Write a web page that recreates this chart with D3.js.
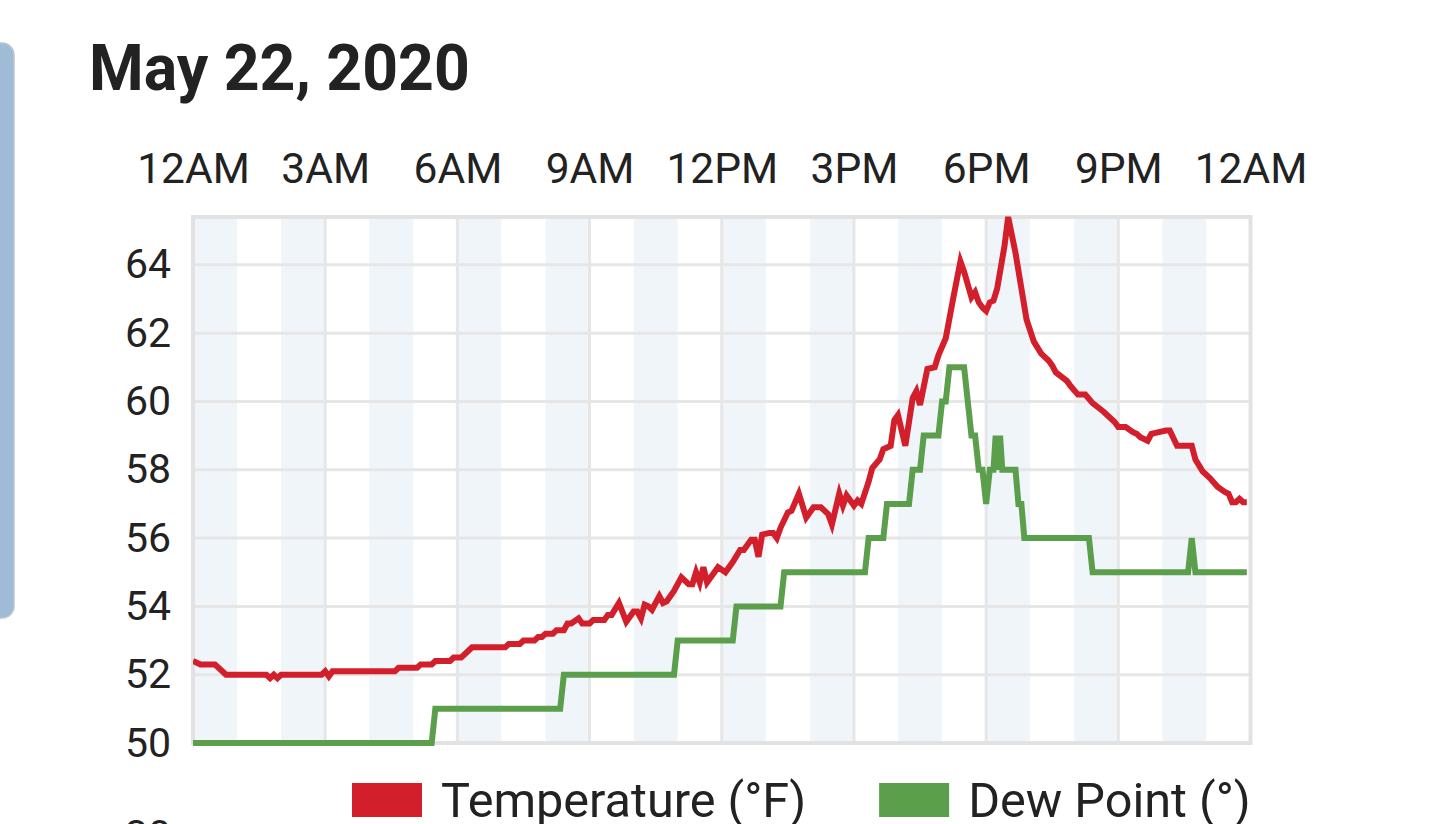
<!DOCTYPE html>
<html>
<head>
<meta charset="utf-8">
<script src="https://cdn.jsdelivr.net/npm/d3@7"></script>
<style>
  body { margin: 0; background: #fff; }
  svg { display: block; font-family: Roboto, "Noto Sans", sans-serif; }
</style>
</head>
<body>
<svg id="chart" width="1437" height="824"></svg>
<script>
// ---- //
// Data //
// ---- //

const chartTitle = "May 22, 2020";
const seriesNames = ["Temperature (°F)", "Dew Point (°)"];
const seriesColors = ["#d31f2b", "#5b9e4b"];
const yTicks = [50, 52, 54, 56, 58, 60, 62, 64];

// [time of day, °F]
const temperature = [
  ["0:00", 52.4], ["0:10", 52.3], ["0:30", 52.3], ["0:45", 52.0], ["1:40", 52.0],
  ["1:45", 51.9], ["1:50", 52.0], ["1:55", 51.9], ["2:00", 52.0], ["2:55", 52.0],
  ["3:00", 52.1], ["3:05", 51.95], ["3:10", 52.1], ["4:35", 52.1], ["4:40", 52.2],
  ["5:05", 52.2], ["5:10", 52.3], ["5:25", 52.3], ["5:30", 52.4], ["5:50", 52.4],
  ["5:55", 52.5], ["6:05", 52.5], ["6:10", 52.6], ["6:15", 52.7], ["6:20", 52.8],
  ["7:05", 52.8], ["7:10", 52.9], ["7:25", 52.9], ["7:30", 53.0], ["7:45", 53.0],
  ["7:50", 53.1], ["7:55", 53.1], ["8:00", 53.2], ["8:10", 53.2], ["8:15", 53.3],
  ["8:25", 53.3], ["8:30", 53.5], ["8:35", 53.5], ["8:45", 53.65], ["8:50", 53.5],
  ["9:00", 53.5], ["9:05", 53.6], ["9:20", 53.6], ["9:25", 53.75], ["9:30", 53.75],
  ["9:40", 54.1], ["9:50", 53.55], ["10:00", 53.85], ["10:05", 53.85], ["10:10", 53.65],
  ["10:15", 54.05], ["10:20", 54.0], ["10:25", 53.9], ["10:35", 54.3], ["10:40", 54.1],
  ["10:45", 54.15], ["10:55", 54.45], ["11:05", 54.85], ["11:15", 54.65], ["11:20", 54.65],
  ["11:25", 55.0], ["11:30", 54.7], ["11:35", 55.15], ["11:40", 54.7], ["11:50", 55.0],
  ["11:55", 55.15], ["12:05", 55.0], ["12:15", 55.3], ["12:25", 55.65], ["12:30", 55.65],
  ["12:40", 55.95], ["12:45", 55.95], ["12:50", 55.45], ["12:55", 56.1], ["13:05", 56.15],
  ["13:10", 56.15], ["13:15", 56.0], ["13:20", 56.3], ["13:30", 56.75], ["13:35", 56.8],
  ["13:45", 57.3], ["13:55", 56.6], ["14:05", 56.9], ["14:15", 56.9], ["14:25", 56.7],
  ["14:30", 56.4], ["14:40", 57.3], ["14:45", 56.95], ["14:50", 57.25], ["15:00", 56.95],
  ["15:05", 57.1], ["15:10", 57.0], ["15:20", 57.65], ["15:25", 58.05], ["15:35", 58.3],
  ["15:40", 58.6], ["15:50", 58.7], ["15:55", 59.45], ["16:00", 59.6], ["16:10", 58.7],
  ["16:20", 60.1], ["16:25", 60.3], ["16:30", 59.9], ["16:40", 60.95], ["16:50", 61.0],
  ["16:55", 61.35], ["17:05", 61.85], ["17:15", 63.0], ["17:25", 64.1], ["17:30", 63.8],
  ["17:40", 63.05], ["17:45", 63.2], ["17:50", 62.9], ["17:55", 62.75], ["18:00", 62.65],
  ["18:05", 62.9], ["18:10", 62.95], ["18:15", 63.3], ["18:25", 64.55], ["18:30", 65.4],
  ["18:40", 64.35], ["18:50", 63.05], ["18:55", 62.4], ["19:05", 61.75], ["19:15", 61.4],
  ["19:25", 61.2], ["19:30", 61.05], ["19:35", 60.85], ["19:50", 60.6], ["19:55", 60.45],
  ["20:05", 60.2], ["20:15", 60.2], ["20:25", 59.95], ["20:40", 59.7], ["20:55", 59.4],
  ["21:00", 59.25], ["21:10", 59.25], ["21:20", 59.1], ["21:25", 59.05], ["21:30", 58.95],
  ["21:40", 58.85], ["21:45", 59.05], ["21:55", 59.1], ["22:05", 59.15], ["22:10", 59.15],
  ["22:20", 58.7], ["22:40", 58.7], ["22:45", 58.3], ["22:55", 57.95], ["23:05", 57.75],
  ["23:15", 57.5], ["23:25", 57.35], ["23:30", 57.3], ["23:35", 57.05], ["23:40", 57.05],
  ["23:45", 57.15], ["23:50", 57.05], ["23:55", 57.05]
];

// [time of day, °F]
const dewPoint = [
  ["0:00", 50], ["5:25", 50], ["5:30", 51], ["8:20", 51], ["8:25", 52],
  ["10:55", 52], ["11:00", 53], ["12:15", 53], ["12:20", 54], ["13:20", 54],
  ["13:25", 55], ["15:15", 55], ["15:20", 56], ["15:40", 56], ["15:45", 57],
  ["16:15", 57], ["16:20", 58], ["16:30", 58], ["16:35", 59], ["16:55", 59],
  ["17:00", 60], ["17:05", 60], ["17:10", 61], ["17:30", 61], ["17:35", 60],
  ["17:40", 59], ["17:45", 59], ["17:50", 58], ["17:55", 58], ["18:00", 57],
  ["18:05", 58], ["18:10", 58], ["18:13", 59], ["18:16", 58], ["18:19", 59],
  ["18:22", 58], ["18:40", 58], ["18:44", 57], ["18:48", 57], ["18:52", 56],
  ["20:20", 56], ["20:25", 55], ["22:35", 55], ["22:40", 56], ["22:45", 55],
  ["23:55", 55]
];

// ----- //
// Setup //
// ----- //

const parseTime = d3.timeParse("%Y-%m-%d %H:%M");
const at = (s) => parseTime("2020-05-22 " + s);
const dayStart = at("0:00");
const dayEnd = d3.timeDay.offset(dayStart, 1);

const plot = { left: 193, right: 1250.5, top: 217, bottom: 743 };

const x = d3.scaleTime().domain([dayStart, dayEnd]).range([plot.left, plot.right]);
const y = d3.scaleLinear().domain([50, 65.4]).range([plot.bottom, plot.top]);

const line = d3.line()
  .x((d) => x(at(d[0])))
  .y((d) => y(d[1]));

const svg = d3.select("#chart");

// side card peeking in from the left
svg.append("rect")
  .attr("x", -30).attr("y", 43)
  .attr("width", 44).attr("height", 575)
  .attr("rx", 12)
  .attr("fill", "#a0bbd5")
  .attr("stroke", "#b9c6d2")
  .attr("stroke-width", 1.5);

// title (the screenshot is a little taller than the font)
svg.append("g")
  .attr("transform", "translate(89, 90) scale(1, 1.05)")
  .append("text")
  .attr("font-size", 62.5).attr("font-weight", 700)
  .attr("fill", "#222")
  .text(chartTitle);

svg.append("clipPath").attr("id", "plot-clip")
  .append("rect")
  .attr("x", plot.left).attr("y", plot.top - 1)
  .attr("width", plot.right - plot.left).attr("height", plot.bottom - plot.top + 6);

// --------- //
// Rendering //
// --------- //

// alternating hour bands
svg.append("g")
  .selectAll("rect")
  .data(d3.timeHour.range(dayStart, dayEnd, 2))
  .join("rect")
  .attr("x", (d) => x(d))
  .attr("y", plot.top)
  .attr("width", (d) => x(d3.timeHour.offset(d, 1)) - x(d))
  .attr("height", plot.bottom - plot.top)
  .attr("fill", "#f0f5fa");

// grid
const hourTicks = d3.timeHour.range(dayStart, d3.timeHour.offset(dayEnd, 1), 3);
const grid = svg.append("g").attr("stroke", "#e6e6e6").attr("stroke-width", 3);
grid.selectAll(".v")
  .data(hourTicks)
  .join("line")
  .attr("x1", (d) => x(d)).attr("x2", (d) => x(d))
  .attr("y1", plot.top).attr("y2", plot.bottom);
grid.selectAll(".h")
  .data(yTicks)
  .join("line")
  .attr("x1", plot.left).attr("x2", plot.right)
  .attr("y1", (d) => y(d)).attr("y2", (d) => y(d));

// frame
svg.append("rect")
  .attr("x", plot.left).attr("y", plot.top)
  .attr("width", plot.right - plot.left).attr("height", plot.bottom - plot.top)
  .attr("fill", "none")
  .attr("stroke", "#e2e2e2")
  .attr("stroke-width", 4);

// axes
const xAxis = svg.append("g")
  .attr("transform", `translate(0, ${plot.top})`)
  .call(d3.axisTop(x)
    .tickValues(hourTicks)
    .tickFormat(d3.timeFormat("%-I%p"))
    .tickSize(0)
    .tickPadding(34));
const yAxis = svg.append("g")
  .attr("transform", `translate(${plot.left}, 0)`)
  .call(d3.axisLeft(y)
    .tickValues(yTicks)
    .tickFormat(d3.format("d"))
    .tickSize(0)
    .tickPadding(22));
[[xAxis, 42.5], [yAxis, 41]].forEach(([g, size]) => {
  g.select(".domain").remove();
  g.selectAll("text")
    .attr("font-family", "Roboto, sans-serif")
    .attr("font-size", size)
    .attr("fill", "#222");
});

// series lines
const lines = svg.append("g").attr("clip-path", "url(#plot-clip)");
[dewPoint, temperature].forEach((series, i) => {
  lines.append("path")
    .datum(series)
    .attr("d", line)
    .attr("fill", "none")
    .attr("stroke", seriesColors[1 - i])
    .attr("stroke-width", 6);
});

// legend
const legend = svg.append("g").attr("fill", "#222").attr("font-size", 48.6);
let lx = 352;
seriesNames.forEach((name, i) => {
  legend.append("rect")
    .attr("x", lx).attr("y", 783)
    .attr("width", 70).attr("height", 34)
    .attr("fill", seriesColors[i]);
  const label = legend.append("text")
    .attr("x", lx + 89).attr("y", 817)
    .text(name);
  lx += 89 + label.node().getComputedTextLength() + 73;
});

// top of the next chart's first axis label, cut by the window edge
svg.append("text")
  .attr("x", 171).attr("y", 849)
  .attr("text-anchor", "end")
  .attr("font-size", 41)
  .attr("fill", "#222")
  .text("30");
</script>
</body>
</html>
